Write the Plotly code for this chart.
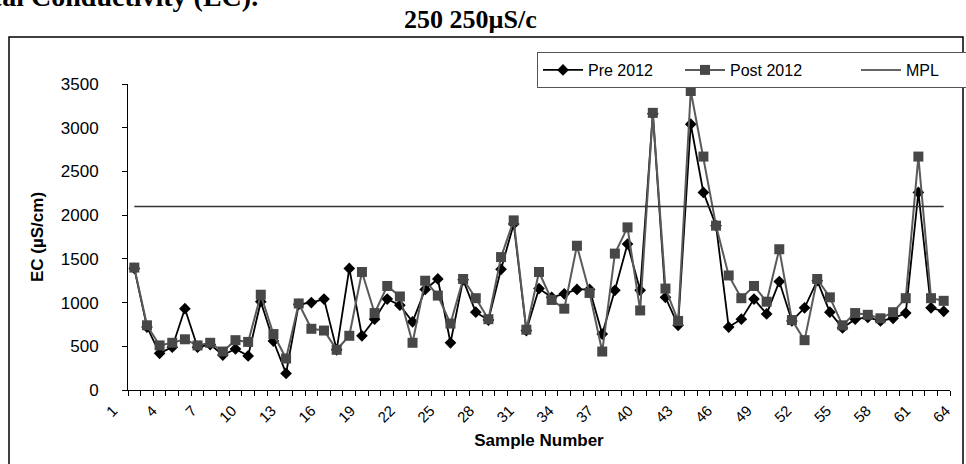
import plotly.graph_objects as go

samples = list(range(1, 66))
pre_2012 = [1390, 720, 420, 490, 930, 490, 520, 400, 470, 390,
            1010, 560, 190, 980, 1000, 1040, 460, 1390, 620, 810,
            1040, 970, 780, 1150, 1270, 540, 1260, 890, 800, 1380,
            1900, 680, 1160, 1060, 1100, 1150, 1150, 640, 1140, 1670,
            1140, 3160, 1060, 740, 3040, 2260, 1880, 720, 810, 1040,
            870, 1240, 790, 940, 1250, 890, 710, 810, 830, 790,
            820, 880, 2260, 940, 900]
post_2012 = [1400, 740, 510, 540, 580, 510, 540, 440, 570, 550,
             1090, 640, 360, 990, 700, 680, 460, 620, 1350, 880,
             1190, 1070, 540, 1250, 1080, 760, 1270, 1050, 810, 1520,
             1940, 690, 1350, 1030, 930, 1650, 1110, 440, 1560, 1860,
             910, 3170, 1160, 790, 3420, 2670, 1880, 1310, 1050, 1190,
             1010, 1610, 800, 570, 1270, 1060, 740, 880, 860, 820,
             890, 1050, 2670, 1050, 1020]
mpl_value = 2100
mpl = [mpl_value] * len(samples)
tick_labels = [str(v) for v in range(1, 66, 3)]
tick_positions = list(range(1, 66, 3))
y_ticks = [0, 500, 1000, 1500, 2000, 2500, 3000, 3500]

W, H = 966, 464
ML, MR, MT, MB = 80, 6, 84, 74
PW, PH = W - ML - MR, H - MT - MB
AX_L, AX_R = 128, 950          # pixel extent of the plotting area
LAB_L, LAB_R = 98, 960         # pixel extent of the label axis
LAB_X1, LAB_STEP = 113, 13.22  # label axis: where label "1" sits, px per sample
SANS = "Liberation Sans, Arial, sans-serif"
SERIF = "Liberation Serif, Times New Roman, serif"


def px(x):
    return (x - ML) / PW


def py(y):
    return (H - MB - y) / PH


lab_r0 = 1 + (LAB_L - LAB_X1) / LAB_STEP
lab_r1 = 1 + (LAB_R - LAB_X1) / LAB_STEP

fig = go.Figure()
fig.add_trace(go.Scatter(
    x=samples, y=pre_2012, name="Pre 2012", mode="lines+markers",
    line=dict(color="#000000", width=1.8),
    marker=dict(symbol="diamond", size=9, color="#000000"),
    legendwidth=87,
))
fig.add_trace(go.Scatter(
    x=samples, y=post_2012, name="Post 2012", mode="lines+markers",
    line=dict(color="#5a5a5a", width=2),
    marker=dict(symbol="square", size=10, color="#474747"),
    legendwidth=121,
))
fig.add_trace(go.Scatter(
    x=samples, y=mpl, name="MPL", mode="lines",
    line=dict(color="#333333", width=1.5),
    legendwidth=58,
))
# an empty trace so the sample-label axis is laid out
fig.add_trace(go.Scatter(x=[lab_r0], y=[None], xaxis="x2", yaxis="y",
                         showlegend=False, hoverinfo="skip", mode="markers"))

fig.update_layout(
    width=W, height=H,
    margin=dict(l=ML, r=MR, t=MT, b=MB, autoexpand=False),
    paper_bgcolor="white", plot_bgcolor="rgba(0,0,0,0)",
    font=dict(family=SANS, color="#000000", size=15),
    showlegend=True,
    legend=dict(
        orientation="h", x=px(537), xanchor="left", y=py(52), yanchor="top",
        bordercolor="#555555", borderwidth=1, bgcolor="white",
        font=dict(size=16), itemwidth=40,
    ),
    xaxis=dict(
        domain=[px(AX_L), px(AX_R)],
        range=[0.5, 65.5], showticklabels=False, ticks="", showgrid=False,
        zeroline=False, showline=True, linecolor="#000000", linewidth=1,
        minor=dict(ticks="outside", tick0=0.5, dtick=1, ticklen=5,
                   tickcolor="#000000", showgrid=False),
        title=dict(text="<b>Sample Number</b>", font=dict(size=17), standoff=44),
    ),
    xaxis2=dict(
        domain=[px(LAB_L), px(LAB_R)], anchor="y",
        range=[lab_r0, lab_r1], tickmode="array", tickvals=tick_positions,
        ticktext=tick_labels, tickangle=-45, ticks="", showgrid=False,
        zeroline=False, showline=False, tickfont=dict(size=15),
        ticklabelstandoff=8, fixedrange=True,
    ),
    yaxis=dict(
        range=[0, 3500], tickvals=y_ticks, ticks="outside", ticklen=5,
        tickcolor="#000000", showgrid=False, zeroline=False, showline=True,
        linecolor="#000000", linewidth=1, tickfont=dict(size=17),
        ticklabelstandoff=20,
        title=dict(text="<b>EC (µS/cm)</b>", font=dict(size=17), standoff=12),
    ),
    shapes=[dict(
        type="rect", xref="paper", yref="paper",
        x0=px(9), x1=px(963), y0=py(480), y1=py(37),
        line=dict(color="#000000", width=1.5), fillcolor="rgba(0,0,0,0)",
        layer="below",
    )],
    annotations=[
        dict(text="<b>250 250µS/c</b>", xref="paper", yref="paper",
             x=px(470), y=py(19), xanchor="center", yanchor="middle",
             showarrow=False, font=dict(family=SERIF, size=26)),
        dict(text="<b>Electrical Conductivity (EC).</b>", xref="paper", yref="paper",
             x=px(-93), y=py(-3), xanchor="left", yanchor="middle",
             showarrow=False, font=dict(family=SERIF, size=28)),
    ],
)

fig.write_html("out.html",
               config={"displayModeBar": False},
               post_script="document.body.style.margin='0';document.body.style.overflow='hidden';")
